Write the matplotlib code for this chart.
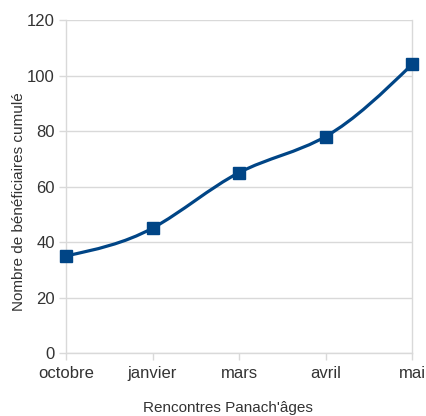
import matplotlib
matplotlib.use("Agg")
import matplotlib.pyplot as plt
import numpy as np
from matplotlib.path import Path
from matplotlib.patches import PathPatch

months = ["octobre", "janvier", "mars", "avril", "mai"]
cumulative = [35, 45, 65, 78, 104]
y_ticks = [0, 20, 40, 60, 80, 100, 120]

LINE = "#004586"
GRID = "#d9d9d9"
TEXT = "#333333"

plt.rcParams["font.family"] = ["Liberation Sans", "DejaVu Sans"]


def natural_spline_path(xs, ys):
    """Natural cubic spline through the points, as Bezier segments."""
    xs = np.asarray(xs, float)
    ys = np.asarray(ys, float)
    n = len(xs)
    h = np.diff(xs)
    a = np.zeros((n, n))
    b = np.zeros(n)
    a[0, 0] = a[-1, -1] = 1.0
    for i in range(1, n - 1):
        a[i, i - 1] = h[i - 1]
        a[i, i] = 2 * (h[i - 1] + h[i])
        a[i, i + 1] = h[i]
        b[i] = 6 * ((ys[i + 1] - ys[i]) / h[i] - (ys[i] - ys[i - 1]) / h[i - 1])
    m = np.linalg.solve(a, b)
    d = np.zeros(n)
    for i in range(n - 1):
        d[i] = (ys[i + 1] - ys[i]) / h[i] - h[i] * (2 * m[i] + m[i + 1]) / 6
    d[-1] = (ys[-1] - ys[-2]) / h[-1] + h[-1] * (m[-2] + 2 * m[-1]) / 6

    verts = [(xs[0], ys[0])]
    codes = [Path.MOVETO]
    for i in range(n - 1):
        k = h[i] / 3
        verts += [(xs[i] + k, ys[i] + k * d[i]),
                  (xs[i + 1] - k, ys[i + 1] - k * d[i + 1]),
                  (xs[i + 1], ys[i + 1])]
        codes += [Path.CURVE4] * 3
    return Path(verts, codes)


fig = plt.figure(figsize=(4.27, 4.16), dpi=100)
ax = fig.add_axes([0.1546, 0.1514, 0.8104, 0.8005])

x = np.arange(len(months))
ax.add_patch(PathPatch(natural_spline_path(x, cumulative), fill=False,
                       edgecolor=LINE, linewidth=2.3, zorder=3))
ax.plot(x, cumulative, linestyle="none", marker="s", markersize=8.5,
        color=LINE, zorder=4, clip_on=False)

ax.set_xlim(0, len(months) - 1)
ax.set_ylim(0, 120)
ax.set_yticks(y_ticks)
ax.set_xticks(x)
ax.set_xticklabels(months)
ax.yaxis.grid(True, color=GRID, linewidth=1)
ax.set_axisbelow(True)

ax.spines["top"].set_visible(False)
for side in ("left", "right", "bottom"):
    ax.spines[side].set_color(GRID)
    ax.spines[side].set_linewidth(1)

ax.tick_params(axis="both", colors=GRID, labelcolor=TEXT, labelsize=12,
               length=5, width=1)
ax.tick_params(axis="y", pad=3)
ax.tick_params(axis="x", pad=4)

ax.set_xlabel("Rencontres Panach'âges", fontsize=11, color=TEXT)
ax.xaxis.set_label_coords(0.468, -0.165)
ax.xaxis.label.set_va("center")
ax.set_ylabel("Nombre de bénéficiaires cumulé", fontsize=11, color=TEXT)
ax.yaxis.set_label_coords(-0.136, 0.456)
ax.yaxis.label.set_ha("center")
ax.yaxis.label.set_va("center")

fig.savefig("out.png", dpi=100)
